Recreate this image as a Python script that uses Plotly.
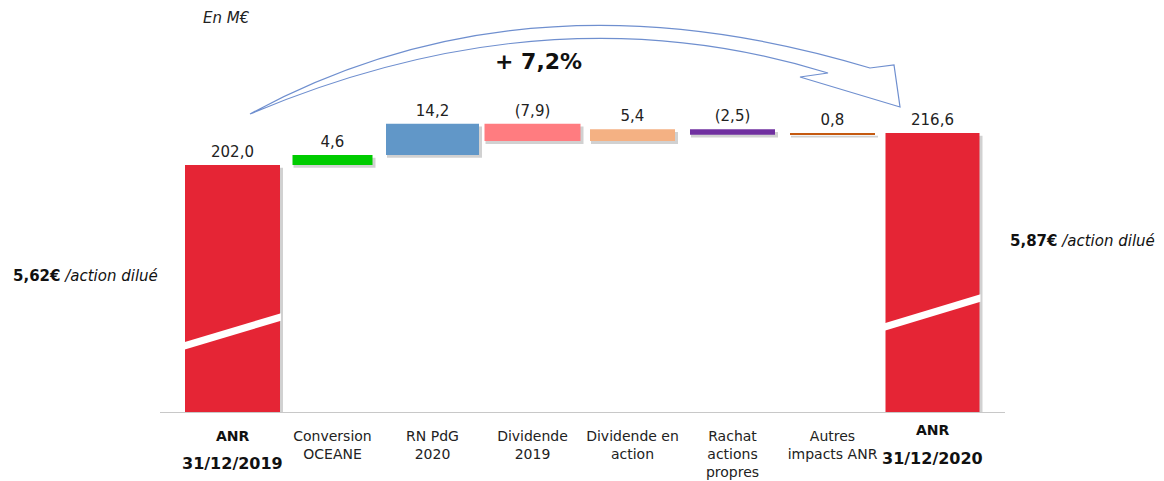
import plotly.graph_objects as go

# ---------------- data ----------------
categories = ["ANR 31/12/2019", "Conversion OCEANE", "RN PdG 2020", "Dividende 2019",
              "Dividende en action", "Rachat actions propres", "Autres impacts ANR", "ANR 31/12/2020"]
tick_labels = ["ANR<br>31/12/2019", "Conversion<br>OCEANE", "RN PdG<br>2020", "Dividende<br>2019",
               "Dividende en<br>action", "Rachat<br>actions<br>propres", "Autres<br>impacts ANR", "ANR<br>31/12/2020"]
values = [202.0, 4.6, 14.2, -7.9, 5.4, -2.5, 0.8, 216.6]
measures = ["total", "relative", "relative", "relative", "relative", "relative", "relative", "total"]
per_share = ["5,62€", "5,87€"]
unit_label = "En M€"
axis_floor = 89.3   # broken axis starts here

colors = ["#E52535", "#00CC00", "#6197C8", "#FF7C80", "#F4B183", "#7030A0", "#C55A11", "#E52535"]
widths = [0.95, 0.80, 0.93, 0.96, 0.85, 0.85, 0.85, 0.94]

# ---------------- derived ----------------
def fr(v):
    s = f"{abs(v):.1f}".replace(".", ",")
    return f"({s})" if v < 0 else s

bases, heights, tops = [], [], []
running = 0.0
for v, m in zip(values, measures):
    if m == "total":
        b, h = axis_floor, v - axis_floor
        running = v
    else:
        b, h = running, v
        running += v
    bases.append(b)
    heights.append(h)
    tops.append(max(b, b + h))

growth = (values[-1] / values[0] - 1) * 100
growth_text = "+ " + f"{growth:.1f}".replace(".", ",") + "%"

FONT = "DejaVu Sans"
W, H = 1164, 481
ML, MR, MT, MB = 160, 159, 10, 69
PW, PH = W - ML - MR, H - MT - MB
YSPAN = 183.4
scale = PH / YSPAN

def px(xp, yp):
    return (xp - ML) / PW, (H - MB - yp) / PH

def pv(p):
    return axis_floor + (H - MB - p) / scale

fig = go.Figure()

# shadows
fig.add_trace(go.Bar(
    x=categories, y=heights, base=[b - 1.3 for b in bases],
    width=[w + 0.02 for w in widths],
    offset=[-(w / 2) + 0.01 for w in widths],
    marker=dict(color="rgba(0,0,0,0.18)", line=dict(width=0)),
    cliponaxis=False, hoverinfo="skip", showlegend=False))

# bars
fig.add_trace(go.Bar(
    x=categories, y=heights, base=bases, width=widths,
    marker=dict(color=colors, line=dict(width=0)),
    hoverinfo="skip", showlegend=False))

# value labels
fig.add_trace(go.Scatter(
    x=categories, y=[t + 2.0 for t in tops], mode="text", text=[fr(v) for v in values],
    textposition="top center", textfont=dict(family=FONT, size=15, color="#222"),
    cliponaxis=False, hoverinfo="skip", showlegend=False))

shapes = []
# broken-axis slashes on the total bars (data coords)
def slash(i, y_left, y_right, th=3.4):
    w = widths[i] / 2 + 0.01
    x0, x1 = i - w, i + w
    return dict(type="path", xref="x", yref="y", layer="above",
                path=f"M {x0},{y_left + th/2} L {x1},{y_right + th/2} L {x1},{y_right - th/2} L {x0},{y_left - th/2} Z",
                fillcolor="white", line=dict(width=0))

shapes.append(slash(0, pv(346), pv(317)))
shapes.append(slash(7, pv(327), pv(298)))

# curved arrow (paper coords)
pts = dict(S=(250, 114), C1=(526, -36), E=(870, 68), HO=(894, 65), T=(900, 107),
           B=(800, 77), N=(828, 73), C2=(551, -13))
P = {k: px(*v) for k, v in pts.items()}
def f(p):
    return f"{p[0]:.5f},{p[1]:.5f}"
path = (f"M {f(P['S'])} Q {f(P['C1'])} {f(P['E'])} L {f(P['HO'])} L {f(P['T'])} "
        f"L {f(P['B'])} L {f(P['N'])} Q {f(P['C2'])} {f(P['S'])} Z")
shapes.append(dict(type="path", xref="paper", yref="paper", path=path,
                   fillcolor="white", line=dict(color="#6F8FCF", width=1.2), layer="above"))

annotations = []
def ann(xp, yp, text, size=15, **kw):
    x, y = px(xp, yp)
    annotations.append(dict(x=x, y=y, xref="paper", yref="paper", text=text, showarrow=False,
                            font=dict(family=FONT, size=size, color=kw.pop("color", "#222")),
                            xanchor="center", yanchor="middle", **kw))

ann(226, 18, f"<i>{unit_label}</i>", size=15)
ann(538, 62, f"<b>{growth_text}</b>", size=22, color="#111")
ann(85, 276, f"<b>{per_share[0]}</b> <i>/action dilué</i>", size=15, color="#111")
ann(1082, 241, f"<b>{per_share[1]}</b> <i>/action dilué</i>", size=15, color="#111")

# bold labels for the two total bars
for i, (y1, y2) in zip([0, 7], [(436, 463), (430, 458)]):
    l1, l2 = tick_labels[i].split("<br>")
    for txt, yy, sz in [(l1, y1, 14), (l2, y2, 16)]:
        annotations.append(dict(x=categories[i], y=(H - MB - yy) / PH, xref="x", yref="paper",
                                text=f"<b>{txt}</b>", showarrow=False,
                                font=dict(family=FONT, size=sz, color="#111"),
                                xanchor="center", yanchor="middle"))

ticktext = ["" if m == "total" else t for t, m in zip(tick_labels, measures)]

fig.update_layout(
    width=W, height=H, margin=dict(l=ML, r=MR, t=MT, b=MB, autoexpand=False),
    paper_bgcolor="white", plot_bgcolor="white",
    barmode="overlay", showlegend=False,
    xaxis=dict(type="category", range=[-0.725, 7.725], tickmode="array",
               tickvals=categories, ticktext=ticktext, showgrid=False, zeroline=False,
               showline=True, linecolor="#C8C8C8", linewidth=1, ticks="", automargin=False,
               tickfont=dict(family=FONT, size=14, color="#222"), ticklabelstandoff=11),
    yaxis=dict(range=[axis_floor, axis_floor + YSPAN], visible=False, automargin=False),
    shapes=shapes, annotations=annotations,
    font=dict(family=FONT),
)

fig.write_html("out.html")
